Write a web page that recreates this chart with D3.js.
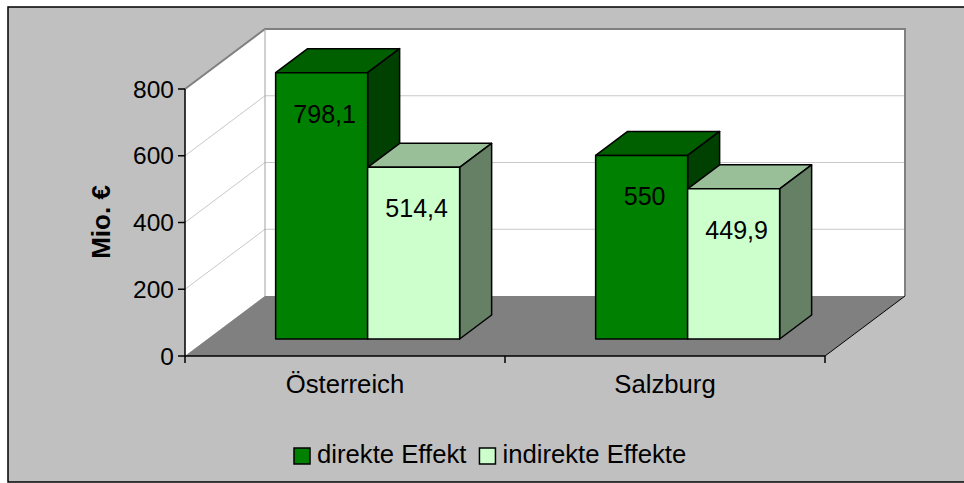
<!DOCTYPE html>
<html><head><meta charset="utf-8">
<script src="https://cdn.jsdelivr.net/npm/d3@7"></script>
<style>html,body{margin:0;padding:0;background:#fff;}svg{display:block;font-family:"Liberation Sans",Arial,sans-serif;}</style>
</head><body>
<svg id="chart" width="964" height="483"></svg>
<script>
const categories = ["Österreich", "Salzburg"];
const seriesNames = ["direkte Effekt", "indirekte Effekte"];
const direkteEffekt = [798.1, 550];
const indirekteEffekte = [514.4, 449.9];
const valueLabels = [["798,1", "550"], ["514,4", "449,9"]];
const yTicks = [0, 200, 400, 600, 800];
const seriesColors = ["#008000", "#ccffcc"];

const series = [direkteEffekt, indirekteEffekte];
const svg = d3.select("#chart");

// Oblique 3D projection parameters
const DX = 80, DY = 60;
const zFront = 0.283, zDepth = 0.4;

const y = d3.scaleLinear().domain([0, 800]).range([356, 89]);
const x0 = d3.scaleBand().domain(categories).range([185, 825]).paddingInner(0.425).paddingOuter(0.2125);
const x1 = d3.scaleBand().domain(d3.range(series.length)).range([0, x0.bandwidth()]);

const P = (xf, v, z) => [xf + z * DX, y(v) - z * DY];
const poly = pts => pts.map(p => p.join(",")).join(" ");

svg.append("rect").attr("x", 8).attr("y", 7).attr("width", 975).attr("height", 475)
  .attr("fill", "#c0c0c0").attr("stroke", "#000").attr("stroke-width", 1.5);

const xL = 185, xR = 825;
svg.append("polygon").attr("points", poly([P(xL,0,0), P(xL,800,0), P(xL,800,1), P(xL,0,1)])).attr("fill", "#fff");
svg.append("polygon").attr("points", poly([P(xL,0,1), P(xL,800,1), P(xR,800,1), P(xR,0,1)])).attr("fill", "#fff");
yTicks.filter(v => v > 0 && v < 800).forEach(v => {
  svg.append("polyline").attr("points", poly([P(xL,v,0), P(xL,v,1), P(xR,v,1)]))
    .attr("fill", "none").attr("stroke", "#c8c8c8").attr("stroke-width", 1);
});
svg.append("polyline").attr("points", poly([P(xL,800,0), P(xL,800,1), P(xR,800,1), P(xR,0,1)]))
  .attr("fill", "none").attr("stroke", "#808080").attr("stroke-width", 2);
svg.append("line").attr("x1", P(xL,0,1)[0]).attr("y1", P(xL,0,1)[1]).attr("x2", P(xL,800,1)[0]).attr("y2", P(xL,800,1)[1])
  .attr("stroke", "#a0a0a0").attr("stroke-width", 1);
svg.append("polygon").attr("points", poly([P(xL,0,0), P(xR,0,0), P(xR,0,1), P(xL,0,1)])).attr("fill", "#808080");
svg.append("line").attr("x1", P(xR,0,0)[0]).attr("y1", P(xR,0,0)[1]).attr("x2", P(xR,0,1)[0]).attr("y2", P(xR,0,1)[1])
  .attr("stroke", "#000").attr("stroke-width", 1);

const shade = (c, k) => { const r = d3.rgb(c); return d3.rgb(r.r * k, r.g * k, r.b * k).formatHex(); };
categories.forEach((cat, ci) => {
  series.forEach((s, si) => {
    const v = s[ci];
    const xa = x0(cat) + x1(si), xb = xa + x1.bandwidth();
    const z0 = zFront, z1 = zFront + zDepth;
    const g = svg.append("g").attr("stroke", "#000").attr("stroke-width", 1.5).attr("stroke-linejoin", "round");
    const face = (pts, fill) => g.append("polygon").attr("points", poly(pts)).attr("fill", fill);
    face([P(xa,v,z0), P(xb,v,z0), P(xb,v,z1), P(xa,v,z1)], shade(seriesColors[si], 0.75));
    face([P(xb,0,z0), P(xb,v,z0), P(xb,v,z1), P(xb,0,z1)], shade(seriesColors[si], 0.5));
    face([P(xa,0,z0), P(xb,0,z0), P(xb,v,z0), P(xa,v,z0)], seriesColors[si]);
    const top = P((xa + xb) / 2, v, z0);
    svg.append("text").attr("x", top[0] + 3).attr("y", top[1] + 41)
      .attr("text-anchor", "middle").attr("dominant-baseline", "central")
      .attr("font-size", 25).attr("fill", "#000").text(valueLabels[si][ci]);
  });
});

svg.append("line").attr("x1", xL).attr("y1", y(0)).attr("x2", xL).attr("y2", y(800)).attr("stroke", "#000").attr("stroke-width", 1.5);
svg.append("line").attr("x1", xL).attr("y1", y(0)).attr("x2", xR).attr("y2", y(0)).attr("stroke", "#000").attr("stroke-width", 1.5);
yTicks.forEach(v => {
  svg.append("line").attr("x1", xL - 7).attr("x2", xL).attr("y1", y(v)).attr("y2", y(v)).attr("stroke", "#000").attr("stroke-width", 1.5);
  svg.append("text").attr("x", 174).attr("y", y(v)).attr("text-anchor", "end").attr("dominant-baseline", "central")
    .attr("font-size", 24.5).attr("fill", "#000").text(v);
});
[xL, (xL + xR) / 2, xR].forEach(px => {
  svg.append("line").attr("x1", px).attr("x2", px).attr("y1", y(0)).attr("y2", y(0) + 7).attr("stroke", "#000").attr("stroke-width", 1.5);
});
categories.forEach(c => {
  svg.append("text").attr("x", x0(c) + x0.bandwidth() / 2).attr("y", 393).attr("text-anchor", "middle")
    .attr("font-size", 25.7).attr("fill", "#000").text(c);
});
svg.append("text").attr("transform", "translate(110,222) rotate(-90)").attr("text-anchor", "middle")
  .attr("font-size", 26).attr("font-weight", "bold").attr("fill", "#000").text("Mio. €");

let lx = 294;
seriesNames.forEach((name, i) => {
  svg.append("rect").attr("x", lx).attr("y", 448).attr("width", 16).attr("height", 16)
    .attr("fill", seriesColors[i]).attr("stroke", "#000").attr("stroke-width", 1.5);
  const t = svg.append("text").attr("x", lx + 23).attr("y", 463).attr("font-size", 25.7).attr("fill", "#000").text(name);
  lx = lx + 23 + t.node().getComputedTextLength() + 13;
});
</script>
</body></html>
